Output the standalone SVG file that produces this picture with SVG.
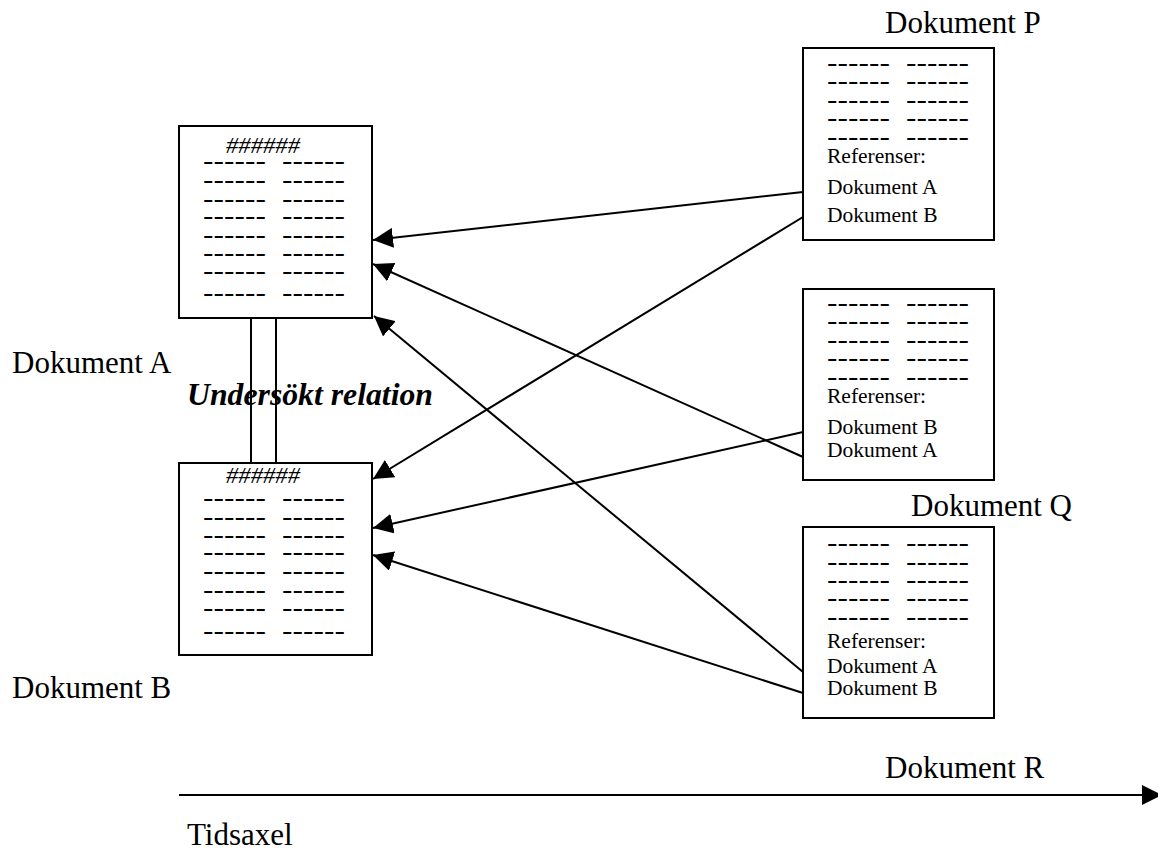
<svg xmlns="http://www.w3.org/2000/svg" width="1158" height="850" viewBox="0 0 1158 850">
<defs>
<style>
.box{fill:#fff;stroke:#000;stroke-width:2}
.lbl{font-family:"Liberation Serif",serif;font-size:31px;fill:#000}
.ref{font-family:"Liberation Serif",serif;font-size:21.5px;fill:#000}
.dash{font-family:"Liberation Sans",sans-serif;font-size:16px;font-weight:bold;fill:#000}
.dashb{font-family:"Liberation Sans",sans-serif;font-size:16px;font-weight:bold;fill:#000}
.hash{font-family:"Liberation Serif",serif;font-style:italic;font-size:24px;fill:#000}
.conn{stroke:#000;stroke-width:2;fill:none}
</style>
<marker id="ah" viewBox="0 0 20 20" refX="20" refY="10" markerWidth="20" markerHeight="20" markerUnits="userSpaceOnUse" orient="auto">
<path d="M0,0 L20,10 L0,20 z" fill="#000"/>
</marker>
</defs>
<rect width="1158" height="850" fill="#fff"/>

<g id="relation">
<line x1="251" y1="318" x2="251" y2="463" class="conn"/>
<line x1="276" y1="318" x2="276" y2="463" class="conn"/>
<text x="187" y="405" font-family="Liberation Serif, serif" font-size="31" font-weight="bold" font-style="italic" textLength="246" lengthAdjust="spacingAndGlyphs">Undersökt relation</text>
</g>

<g id="docA">
<rect x="179" y="126" width="193" height="192" class="box"/>
<text x="226" y="153" class="hash" textLength="74" lengthAdjust="spacingAndGlyphs">######</text>
<g class="dashb">
<text x="203" y="167" textLength="63" lengthAdjust="spacingAndGlyphs">------</text><text x="282" y="167" textLength="63" lengthAdjust="spacingAndGlyphs">------</text>
<text x="203" y="185.5" textLength="63" lengthAdjust="spacingAndGlyphs">------</text><text x="282" y="185.5" textLength="63" lengthAdjust="spacingAndGlyphs">------</text>
<text x="203" y="204.5" textLength="63" lengthAdjust="spacingAndGlyphs">------</text><text x="282" y="204.5" textLength="63" lengthAdjust="spacingAndGlyphs">------</text>
<text x="203" y="222" textLength="63" lengthAdjust="spacingAndGlyphs">------</text><text x="282" y="222" textLength="63" lengthAdjust="spacingAndGlyphs">------</text>
<text x="203" y="240.5" textLength="63" lengthAdjust="spacingAndGlyphs">------</text><text x="282" y="240.5" textLength="63" lengthAdjust="spacingAndGlyphs">------</text>
<text x="203" y="258.5" textLength="63" lengthAdjust="spacingAndGlyphs">------</text><text x="282" y="258.5" textLength="63" lengthAdjust="spacingAndGlyphs">------</text>
<text x="203" y="276.5" textLength="63" lengthAdjust="spacingAndGlyphs">------</text><text x="282" y="276.5" textLength="63" lengthAdjust="spacingAndGlyphs">------</text>
<text x="203" y="298.5" textLength="63" lengthAdjust="spacingAndGlyphs">------</text><text x="282" y="298.5" textLength="63" lengthAdjust="spacingAndGlyphs">------</text>
</g>
<text x="12" y="373" class="lbl">Dokument A</text>
</g>

<g id="docB">
<rect x="179" y="463" width="193" height="192" class="box"/>
<text x="226" y="483" class="hash" textLength="74" lengthAdjust="spacingAndGlyphs">######</text>
<g class="dashb">
<text x="203" y="503.5" textLength="63" lengthAdjust="spacingAndGlyphs">------</text><text x="282" y="503.5" textLength="63" lengthAdjust="spacingAndGlyphs">------</text>
<text x="203" y="522.5" textLength="63" lengthAdjust="spacingAndGlyphs">------</text><text x="282" y="522.5" textLength="63" lengthAdjust="spacingAndGlyphs">------</text>
<text x="203" y="540.5" textLength="63" lengthAdjust="spacingAndGlyphs">------</text><text x="282" y="540.5" textLength="63" lengthAdjust="spacingAndGlyphs">------</text>
<text x="203" y="557.5" textLength="63" lengthAdjust="spacingAndGlyphs">------</text><text x="282" y="557.5" textLength="63" lengthAdjust="spacingAndGlyphs">------</text>
<text x="203" y="576.5" textLength="63" lengthAdjust="spacingAndGlyphs">------</text><text x="282" y="576.5" textLength="63" lengthAdjust="spacingAndGlyphs">------</text>
<text x="203" y="595.5" textLength="63" lengthAdjust="spacingAndGlyphs">------</text><text x="282" y="595.5" textLength="63" lengthAdjust="spacingAndGlyphs">------</text>
<text x="203" y="613.5" textLength="63" lengthAdjust="spacingAndGlyphs">------</text><text x="282" y="613.5" textLength="63" lengthAdjust="spacingAndGlyphs">------</text>
<text x="203" y="636.5" textLength="63" lengthAdjust="spacingAndGlyphs">------</text><text x="282" y="636.5" textLength="63" lengthAdjust="spacingAndGlyphs">------</text>
</g>
<text x="12" y="698" class="lbl">Dokument B</text>
</g>

<g id="docP">
<text x="885" y="33" class="lbl">Dokument P</text>
<rect x="803" y="48" width="191" height="192" class="box"/>
<g class="dash">
<text x="827" y="68.5" textLength="63" lengthAdjust="spacingAndGlyphs">------</text><text x="906" y="68.5" textLength="63" lengthAdjust="spacingAndGlyphs">------</text>
<text x="827" y="86.5" textLength="63" lengthAdjust="spacingAndGlyphs">------</text><text x="906" y="86.5" textLength="63" lengthAdjust="spacingAndGlyphs">------</text>
<text x="827" y="105.5" textLength="63" lengthAdjust="spacingAndGlyphs">------</text><text x="906" y="105.5" textLength="63" lengthAdjust="spacingAndGlyphs">------</text>
<text x="827" y="123.5" textLength="63" lengthAdjust="spacingAndGlyphs">------</text><text x="906" y="123.5" textLength="63" lengthAdjust="spacingAndGlyphs">------</text>
<text x="827" y="142.5" textLength="63" lengthAdjust="spacingAndGlyphs">------</text><text x="906" y="142.5" textLength="63" lengthAdjust="spacingAndGlyphs">------</text>
</g>
<text x="827" y="163" class="ref">Referenser:</text>
<text x="827" y="194" class="ref">Dokument A</text>
<text x="827" y="222" class="ref">Dokument B</text>
</g>

<g id="docQ">
<rect x="803" y="289" width="191" height="191" class="box"/>
<g class="dash">
<text x="827" y="308.5" textLength="63" lengthAdjust="spacingAndGlyphs">------</text><text x="906" y="308.5" textLength="63" lengthAdjust="spacingAndGlyphs">------</text>
<text x="827" y="326.5" textLength="63" lengthAdjust="spacingAndGlyphs">------</text><text x="906" y="326.5" textLength="63" lengthAdjust="spacingAndGlyphs">------</text>
<text x="827" y="345.5" textLength="63" lengthAdjust="spacingAndGlyphs">------</text><text x="906" y="345.5" textLength="63" lengthAdjust="spacingAndGlyphs">------</text>
<text x="827" y="363.5" textLength="63" lengthAdjust="spacingAndGlyphs">------</text><text x="906" y="363.5" textLength="63" lengthAdjust="spacingAndGlyphs">------</text>
<text x="827" y="382.5" textLength="63" lengthAdjust="spacingAndGlyphs">------</text><text x="906" y="382.5" textLength="63" lengthAdjust="spacingAndGlyphs">------</text>
</g>
<text x="827" y="403" class="ref">Referenser:</text>
<text x="827" y="434" class="ref">Dokument B</text>
<text x="827" y="457" class="ref">Dokument A</text>
<text x="911" y="516" class="lbl">Dokument Q</text>
</g>

<g id="docR">
<rect x="803" y="527" width="191" height="191" class="box"/>
<g class="dash">
<text x="827" y="548.5" textLength="63" lengthAdjust="spacingAndGlyphs">------</text><text x="906" y="548.5" textLength="63" lengthAdjust="spacingAndGlyphs">------</text>
<text x="827" y="567.5" textLength="63" lengthAdjust="spacingAndGlyphs">------</text><text x="906" y="567.5" textLength="63" lengthAdjust="spacingAndGlyphs">------</text>
<text x="827" y="585.5" textLength="63" lengthAdjust="spacingAndGlyphs">------</text><text x="906" y="585.5" textLength="63" lengthAdjust="spacingAndGlyphs">------</text>
<text x="827" y="603.5" textLength="63" lengthAdjust="spacingAndGlyphs">------</text><text x="906" y="603.5" textLength="63" lengthAdjust="spacingAndGlyphs">------</text>
<text x="827" y="622.5" textLength="63" lengthAdjust="spacingAndGlyphs">------</text><text x="906" y="622.5" textLength="63" lengthAdjust="spacingAndGlyphs">------</text>
</g>
<text x="827" y="648" class="ref">Referenser:</text>
<text x="827" y="673" class="ref">Dokument A</text>
<text x="827" y="695" class="ref">Dokument B</text>
<text x="885" y="778" class="lbl">Dokument R</text>
</g>

<g id="timeaxis">
<line x1="179" y1="795" x2="1162" y2="795" class="conn" marker-end="url(#ah)"/>
<text x="187" y="845" class="lbl">Tidsaxel</text>
</g>

<g id="connectors">
<line x1="803" y1="192" x2="373" y2="240" class="conn" marker-end="url(#ah)"/>
<line x1="803" y1="217" x2="373" y2="479" class="conn" marker-end="url(#ah)"/>
<line x1="803" y1="432" x2="373" y2="528" class="conn" marker-end="url(#ah)"/>
<line x1="803" y1="457" x2="373" y2="264" class="conn" marker-end="url(#ah)"/>
<line x1="803" y1="672" x2="374" y2="316" class="conn" marker-end="url(#ah)"/>
<line x1="803" y1="693" x2="373" y2="555" class="conn" marker-end="url(#ah)"/>
</g>
</svg>
